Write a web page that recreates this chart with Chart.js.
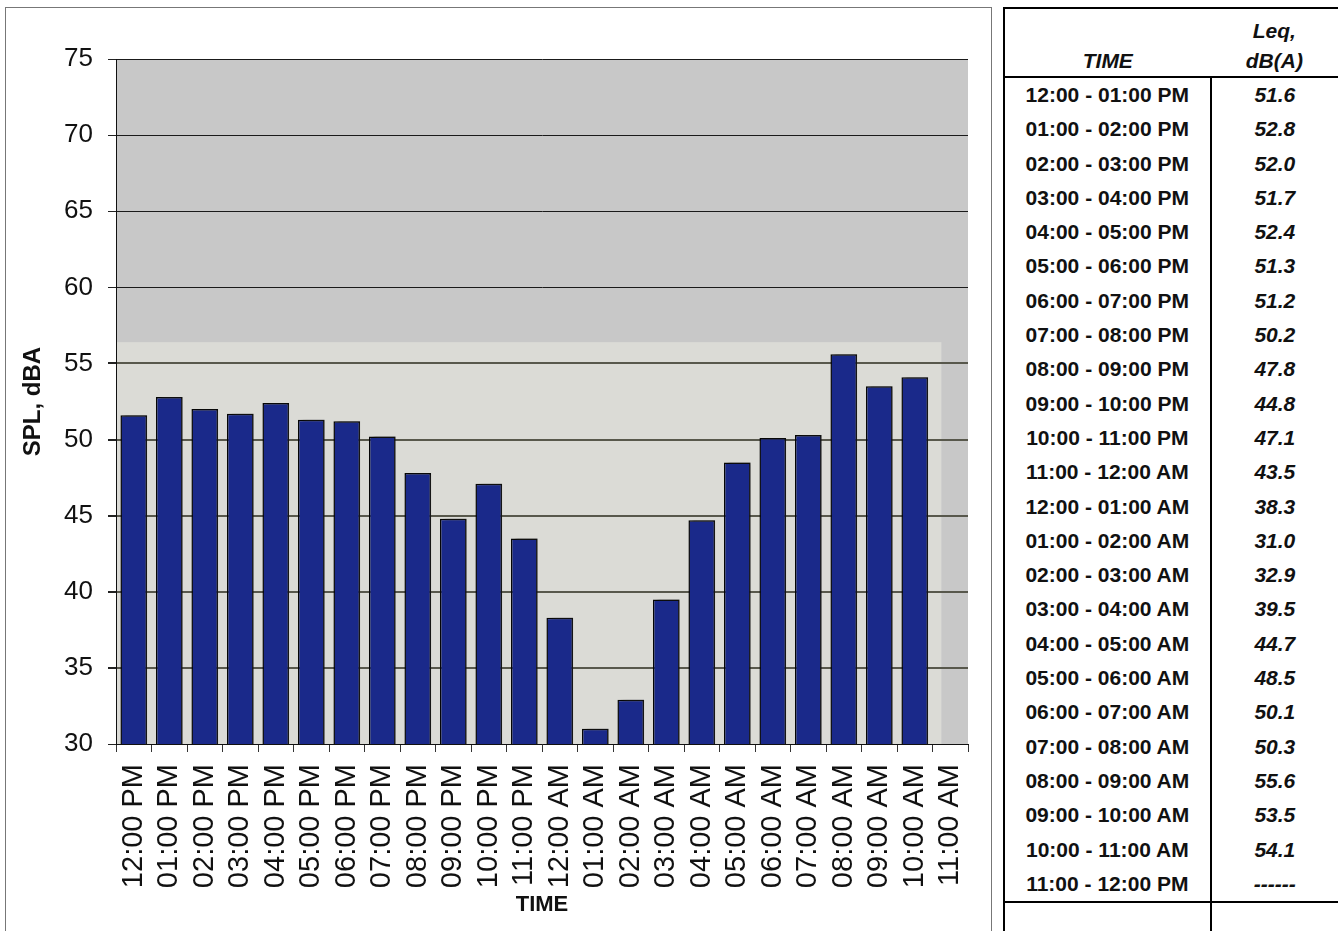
<!DOCTYPE html>
<html lang="en">
<head>
<meta charset="utf-8">
<script src="https://cdn.jsdelivr.net/npm/chart.js@4.4.1/dist/chart.umd.min.js"></script>
<style>
  body { margin: 0; background: #fff; width: 1338px; height: 931px; overflow: hidden; position: relative;
         font-family: "Liberation Sans", Arial, sans-serif; }
  #chartBox { position: absolute; left: 5px; top: 7px; width: 985px; height: 940px; border: 1px solid #777; }
  #chartWrap { position: absolute; left: 0; top: 0; width: 984px; height: 922px; }
  #leqTable { position: absolute; left: 1003px; top: 7px; border-collapse: collapse; table-layout: fixed;
              border-top: 2px solid #000; border-left: 2px solid #000; }
  #leqTable td { padding: 0; text-align: center; font-weight: bold; font-size: 21px; color: #111; }
  #leqTable tr.head td { height: 67px; vertical-align: bottom; line-height: 30px; font-style: italic;
                         border-bottom: 2px solid #000; }
  #leqTable tr.row td { height: 34.3px; line-height: 34.3px; }
  #leqTable td.c2 { font-style: italic; }
  #leqTable tr.row td.c1, #leqTable tr.tail td.c1 { border-right: 2px solid #000; }
  #leqTable tr.tail td { height: 40px; border-top: 2px solid #000; }
</style>
</head>
<body>
<div id="chartBox">
  <div id="chartWrap"><canvas id="leqChart"></canvas></div>
</div>
<table id="leqTable"><colgroup><col style="width:208px"><col style="width:128px"></colgroup><tbody id="leqBody"></tbody></table>

<script>
// hourly Leq readings, dB(A)
const hourLabels = ['12:00 PM', '01:00 PM', '02:00 PM', '03:00 PM', '04:00 PM', '05:00 PM',
  '06:00 PM', '07:00 PM', '08:00 PM', '09:00 PM', '10:00 PM', '11:00 PM',
  '12:00 AM', '01:00 AM', '02:00 AM', '03:00 AM', '04:00 AM', '05:00 AM',
  '06:00 AM', '07:00 AM', '08:00 AM', '09:00 AM', '10:00 AM', '11:00 AM'];
const periodLabels = ['12:00 - 01:00 PM', '01:00 - 02:00 PM', '02:00 - 03:00 PM', '03:00 - 04:00 PM',
  '04:00 - 05:00 PM', '05:00 - 06:00 PM', '06:00 - 07:00 PM', '07:00 - 08:00 PM',
  '08:00 - 09:00 PM', '09:00 - 10:00 PM', '10:00 - 11:00 PM', '11:00 - 12:00 AM',
  '12:00 - 01:00 AM', '01:00 - 02:00 AM', '02:00 - 03:00 AM', '03:00 - 04:00 AM',
  '04:00 - 05:00 AM', '05:00 - 06:00 AM', '06:00 - 07:00 AM', '07:00 - 08:00 AM',
  '08:00 - 09:00 AM', '09:00 - 10:00 AM', '10:00 - 11:00 AM', '11:00 - 12:00 PM'];
const leqValues = [51.6, 52.8, 52.0, 51.7, 52.4, 51.3, 51.2, 50.2, 47.8, 44.8, 47.1, 43.5,
  38.3, 31.0, 32.9, 39.5, 44.7, 48.5, 50.1, 50.3, 55.6, 53.5, 54.1, null];
const yMin = 30, yMax = 75, yStep = 5;

// table on the right
const body = document.getElementById('leqBody');
let rows = '<tr class="head"><td class="c1">TIME</td><td class="c2">Leq,<br>dB(A)</td></tr>';
periodLabels.forEach((p, i) => {
  const v = leqValues[i];
  rows += '<tr class="row"><td class="c1">' + p + '</td><td class="c2">' +
    (v === null ? '------' : v.toFixed(1)) + '</td></tr>';
});
rows += '<tr class="tail"><td class="c1"></td><td class="c2"></td></tr>';
body.innerHTML = rows;

const plotBackdrop = {
  id: 'plotBackdrop',
  beforeDraw(chart, args, opts) {
    const {ctx, chartArea: a, scales: {x, y}} = chart;
    ctx.save();
    ctx.fillStyle = opts.color;
    ctx.fillRect(a.left, a.top, a.width, a.height);
    const r = x.getPixelForValue(opts.lightToIndex);
    const t = y.getPixelForValue(opts.lightTo);
    ctx.fillStyle = opts.lightColor;
    ctx.fillRect(a.left, t, r - a.left, a.bottom - t);
    ctx.restore();
  }
};

const barShadow = {
  id: 'barShadow',
  beforeDatasetDraw(chart) {
    const c = chart.ctx;
    c.save();
    c.shadowColor = 'rgba(40,40,40,0.5)';
    c.shadowOffsetX = 5;
    c.shadowOffsetY = -1;
    c.shadowBlur = 3;
  },
  afterDatasetDraw(chart) { chart.ctx.restore(); }
};

const FONT = '"Liberation Sans", Arial, sans-serif';

new Chart(document.getElementById('leqChart'), {
  type: 'bar',
  data: {
    labels: hourLabels,
    datasets: [{
      label: 'Leq',
      data: leqValues,
      backgroundColor: '#1a298a',
      borderColor: '#050505',
      borderWidth: 1.5,
      barPercentage: 0.75,
      categoryPercentage: 1
    }]
  },
  options: {
    responsive: true,
    maintainAspectRatio: false,
    animation: false,
    layout: { padding: { left: 0, top: 51, right: 22, bottom: 0 } },
    plugins: {
      legend: { display: false },
      tooltip: { enabled: false },
      plotBackdrop: { color: '#c8c8c8', lightColor: '#dbdbd6', lightTo: 56.4, lightToIndex: 22.75 }
    },
    scales: {
      x: {
        grid: { display: true, drawOnChartArea: false, offset: true, tickLength: 8, color: '#333' },
        border: { display: true, color: '#111', width: 1 },
        ticks: { autoSkip: false, minRotation: 90, maxRotation: 90, padding: 12, color: '#111',
                 font: { family: FONT, size: 29 } },
        title: { display: true, text: 'TIME', color: '#111', padding: { top: 0, bottom: 12 },
                 font: { family: FONT, size: 22, weight: 'bold' } },
        afterFit(s) { s.height = 186; s.paddingLeft = 0; s.paddingRight = 0; }
      },
      y: {
        min: yMin, max: yMax,
        ticks: { stepSize: yStep, padding: 15, color: '#111', font: { family: FONT, size: 26 } },
        grid: {
          tickLength: 8,
          tickColor: '#222',
          color: c => (c.tick && c.tick.value <= 55 ? '#58584c' : '#1a1a1a'),
          lineWidth: c => (c.tick && c.tick.value <= 55 && c.tick.value > yMin ? 2 : 1)
        },
        border: { display: true, color: '#111', width: 1 },
        title: { display: true, text: 'SPL, dBA', color: '#111', padding: { top: 13, bottom: 0 },
                 font: { family: FONT, size: 24, weight: 'bold' } },
        afterFit(s) { s.width = 110; }
      }
    }
  },
  plugins: [plotBackdrop, barShadow]
});
</script>
</body>
</html>
